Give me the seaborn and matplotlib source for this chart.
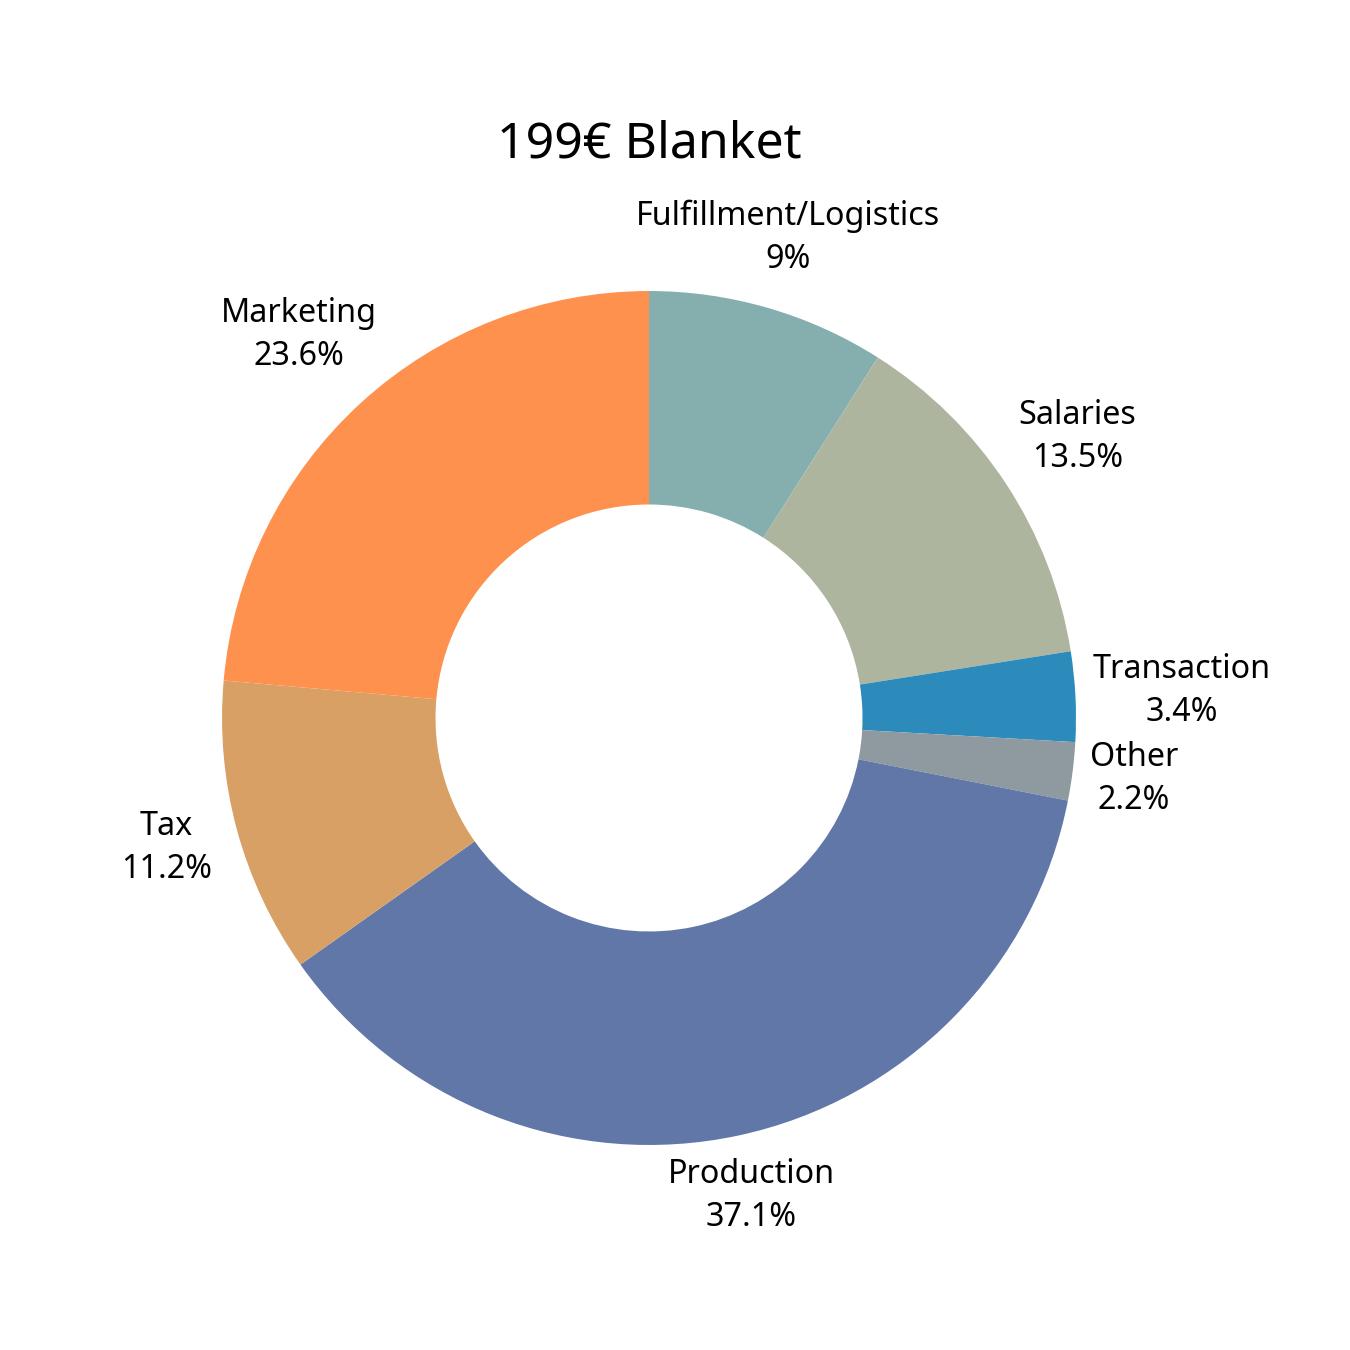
import numpy as np
import matplotlib
matplotlib.use("Agg")
import matplotlib.pyplot as plt
import seaborn as sns

# Cost breakdown of the blanket (percent)
categories = ["Fulfillment/Logistics", "Salaries", "Transaction", "Other",
              "Production", "Tax", "Marketing"]
shares = [9, 13.5, 3.4, 2.2, 37.1, 11.2, 23.6]
colors = ["#85AEAF", "#ADB59F", "#2C8BBA", "#8F9AA0",
          "#6177A8", "#D8A064", "#FE914D"]

# radial distance of each label (in pie radii)
label_dist = [1.17, 1.20, 1.25, 1.145, 1.145, 1.17, 1.215]

sns.set_theme(style="white")
plt.rcParams["font.family"] = ["Noto Sans", "DejaVu Sans"]

fig = plt.figure(figsize=(9, 9), dpi=150)
ax = fig.add_axes([0.0854, 0.0728, 0.7907, 0.7907])

wedges, _ = ax.pie(shares, colors=colors, startangle=90, counterclock=False,
                   wedgeprops=dict(width=0.5, linewidth=0))

# labels outside each wedge
total = sum(shares)
cum = np.cumsum([0] + shares[:-1]) / total
for name, val, c, d in zip(categories, shares, cum, label_dist):
    ang = np.deg2rad(90 - 360 * (c + val / total / 2))
    txt = f"{name}\n{val:g}%"
    ax.text(d * np.cos(ang), d * np.sin(ang), txt, ha="center", va="center",
            multialignment="center", fontsize=15.5, linespacing=1.4,
            color="black")

# title centred over the donut
ax.set_title("199€ Blanket", fontsize=24, color="black", pad=13)

plt.savefig("out.png", dpi=150, facecolor="white")
